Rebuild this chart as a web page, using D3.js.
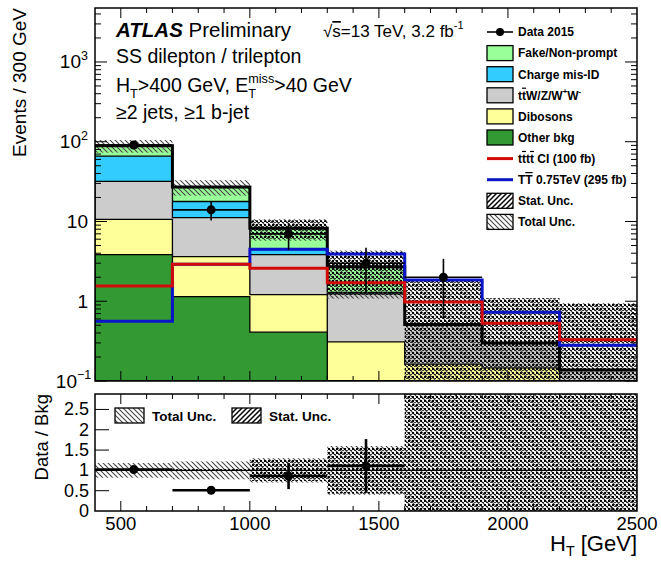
<!DOCTYPE html>
<html><head><meta charset="utf-8">
<script src="https://cdn.jsdelivr.net/npm/d3@7"></script>
<style>
html,body{margin:0;padding:0;background:#fff;}
svg{display:block;font-family:"Liberation Sans",Arial,Helvetica,sans-serif;}
</style></head><body>
<svg id="chart" width="661" height="561"></svg>
<script>
// H_T binning [GeV]
const binEdges = [400, 700, 1000, 1300, 1600, 1900, 2200, 2500];

// Background yields per bin (events / 300 GeV), stacked bottom to top
const otherBkg      = [3.85, 1.14, 0.41, 0, 0, 0, 0];
const dibosons      = [6.75, 2.49, 0.80, 0.31, 0.163, 0.146, 0.05];
const ttV           = [21.3, 7.57, 2.64, 0.93, 0.337, 0.154, 0.087];
const chargeMisID   = [34.0, 6.6, 0.60, 0.05, 0.01, 0, 0];
const fakeNonPrompt = [23.1, 9.2, 3.75, 1.41, 0, 0, 0];

// Signal benchmarks
const ttttCI = [1.55, 2.9, 2.6, 1.7, 0.98, 0.53, 0.33];
const tTbar  = [0.56, 2.9, 4.5, 3.9, 1.85, 0.73, 0.28];

// Relative uncertainties on the total background
const statUncRel = [0.02, 0.03, 0.26, 0.57, 2.7, 2.65, 5.9];
const totUncRel  = [0.18, 0.22, 0.30, 0.60, 2.7, 2.65, 5.9];

// Data 2015
const dataCenters = [550, 850, 1150, 1450, 1750];
const dataCounts  = [91, 14, 7, 3, 2];
const dataErr     = [9.5, 3.7, 2.6, 1.7, 1.4];

// Data / Bkg
const ratioCenters = [550, 850, 1150, 1450];
const ratioVals    = [1.02, 0.51, 0.86, 1.11];
const ratioErr     = [0.06, 0.08, 0.32, 0.66];

// Axis tick labels
const xTickVals   = [500, 1000, 1500, 2000, 2500];
const yLogTicks   = [0.1, 1, 10, 100, 1000];
const yLogLabels  = [["10", "\u22121"], ["1", ""], ["10", ""], ["10", "2"], ["10", "3"]];
const ratioTicks  = [0, 0.5, 1, 1.5, 2, 2.5];
const ratioLabels = ["0", "0.5", "1", "1.5", "2", "2.5"];

const svg = d3.select("#chart");
const M = {l: 95, r: 637, t: 8, b: 381};
const R = {t: 394, b: 511};
const x  = d3.scaleLinear().domain([400, 2500]).range([M.l, M.r]);
const y  = d3.scaleLog().domain([0.1, 4750]).range([M.b, M.t]).clamp(true);
const yr = d3.scaleLinear().domain([0, 2.88]).range([R.b, R.t]).clamp(true);
const yv = v => y(Math.max(v, 1e-4));
const nb = binEdges.length - 1;
const line = d3.line();

// ---------- defs ----------
const defs = svg.append("defs");
defs.append("clipPath").attr("id", "clipMain").append("rect")
  .attr("x", M.l).attr("y", M.t).attr("width", M.r - M.l).attr("height", M.b - M.t);
defs.append("clipPath").attr("id", "clipRatio").append("rect")
  .attr("x", M.l).attr("y", R.t).attr("width", M.r - M.l).attr("height", R.b - R.t);

const hatch = defs.append("pattern").attr("id", "hatchTot")
  .attr("patternUnits", "userSpaceOnUse").attr("width", 5).attr("height", 5);
hatch.append("path").attr("d", "M0,0 L5,5 M-1,4 L1,6 M4,-1 L6,1")
  .attr("stroke", "#444").attr("stroke-width", 1.1);

// dotted lattice for the statistical band
const dots = defs.append("pattern").attr("id", "dotsStat")
  .attr("patternUnits", "userSpaceOnUse").attr("width", 4).attr("height", 4);
dots.append("rect").attr("x", 0).attr("y", 0).attr("width", 2).attr("height", 2).attr("fill", "#000");
dots.append("rect").attr("x", 2).attr("y", 2).attr("width", 2).attr("height", 1).attr("fill", "#000").attr("opacity", 0.75);

const statLeg = defs.append("pattern").attr("id", "statLeg")
  .attr("patternUnits", "userSpaceOnUse").attr("width", 5).attr("height", 5);
statLeg.append("path").attr("d", "M0,5 L5,0 M-1,1 L1,-1 M4,6 L6,4")
  .attr("stroke", "#000").attr("stroke-width", 1.5);

// ---------- stacked backgrounds ----------
const comps  = [otherBkg, dibosons, ttV, chargeMisID, fakeNonPrompt];
const colors = ["#339933", "#ffff99", "#cccccc", "#33ccff", "#99ff99"];
const cum = [];
let acc = new Array(nb).fill(0);
comps.forEach(c => { acc = acc.map((a, i) => a + c[i]); cum.push(acc.slice()); });
const total = cum[cum.length - 1];

function stepPts(vals, yfn, closeTo) {
  const pts = [];
  if (closeTo != null) pts.push([x(binEdges[0]), closeTo]);
  vals.forEach((v, i) => {
    pts.push([x(binEdges[i]), yfn(v)]);
    pts.push([x(binEdges[i + 1]), yfn(v)]);
  });
  if (closeTo != null) pts.push([x(binEdges[nb]), closeTo]);
  return pts;
}

const gMain = svg.append("g").attr("clip-path", "url(#clipMain)");
for (let k = cum.length - 1; k >= 0; k--) {
  gMain.append("path").attr("d", line(stepPts(cum[k], yv, M.b)) + "Z")
    .attr("fill", colors[k]).attr("stroke", "#000").attr("stroke-width", 1.3);
}

// uncertainty bands on total background
function bands(g, rel, fill, yfn) {
  g.selectAll(null).data(d3.range(nb)).enter().append("rect")
    .attr("x", i => x(binEdges[i]))
    .attr("width", i => x(binEdges[i + 1]) - x(binEdges[i]))
    .attr("y", i => yfn(total[i] * (1 + rel[i])))
    .attr("height", i => yfn(total[i] * (1 - rel[i])) - yfn(total[i] * (1 + rel[i])))
    .attr("fill", fill);
}
bands(gMain, totUncRel, "url(#hatchTot)", v => yv(v));
bands(gMain, statUncRel, "url(#dotsStat)", v => yv(v));

// total background outline
gMain.append("path").attr("d", line(stepPts(total, yv)))
  .attr("fill", "none").attr("stroke", "#000").attr("stroke-width", 3);

// signals
gMain.append("path").attr("d", line(stepPts(tTbar, yv)))
  .attr("fill", "none").attr("stroke", "#0a14c8").attr("stroke-width", 3);
gMain.append("path").attr("d", line(stepPts(ttttCI, yv)))
  .attr("fill", "none").attr("stroke", "#d20a0a").attr("stroke-width", 3);

// data
const gData = gMain.append("g");
dataCenters.forEach((c, i) => {
  const n = dataCounts[i], e = dataErr[i];
  gData.append("line").attr("x1", x(c - 150)).attr("x2", x(c + 150))
    .attr("y1", yv(n)).attr("y2", yv(n)).attr("stroke", "#000").attr("stroke-width", 1.6);
  gData.append("line").attr("x1", x(c)).attr("x2", x(c))
    .attr("y1", yv(n - e)).attr("y2", yv(n + e)).attr("stroke", "#000").attr("stroke-width", 1.6);
  gData.append("circle").attr("cx", x(c)).attr("cy", yv(n)).attr("r", 4.5).attr("fill", "#000");
});

// ---------- text helpers ----------
function rich(textSel, segs, size) {
  let shift = 0;
  segs.forEach(s => {
    const ts = textSel.append("tspan").text(s.t);
    let target = 0, fs = size;
    if (s.sup) { target = -size * 0.45; fs = size * 0.65; }
    if (s.sub) { target = size * (s.subShift || 0.3); fs = size * 0.65; }
    ts.attr("font-size", fs);
    const dy = target - shift;
    if (dy) ts.attr("dy", dy);
    if (s.dx) ts.attr("dx", s.dx);
    if (s.bar) ts.style("text-decoration", "overline");
    if (s.weight) ts.attr("font-weight", s.weight);
    if (s.italic) ts.attr("font-style", "italic");
    shift = target;
  });
  return textSel;
}
function measure(str, size, weight) {
  const t = svg.append("text").attr("font-size", size).attr("font-weight", weight || "normal").text(str);
  const w = t.node().getComputedTextLength();
  t.remove();
  return w;
}

// ---------- labels in main panel ----------
const titleSize = 19.5;
rich(svg.append("text").attr("x", 116).attr("y", 37), [
  {t: "ATLAS", weight: "bold", italic: true},
  {t: " Preliminary"}
], 20.5);
rich(svg.append("text").attr("x", 323).attr("y", 37), [
  {t: "\u221A"}, {t: "s", bar: true}, {t: "=13 TeV, 3.2 fb"}, {t: "-1", sup: true}
], 17);
svg.append("text").attr("x", 116).attr("y", 63).attr("font-size", titleSize).text("SS dilepton / trilepton");
{
  const wMiss = measure("miss", titleSize * 0.65);
  const wT = measure("T", titleSize * 0.65);
  rich(svg.append("text").attr("x", 116).attr("y", 92), [
    {t: "H"}, {t: "T", sub: true}, {t: ">400 GeV, E"},
    {t: "miss", sup: true}, {t: "T", sub: true, dx: -wMiss},
    {t: ">40 GeV", dx: wMiss - wT}
  ], titleSize);
}
svg.append("text").attr("x", 116).attr("y", 119).attr("font-size", titleSize).text("\u22652 jets, \u22651 b-jet");

// legend
const legendItems = [
  {type: "data", segs: [{t: "Data 2015"}]},
  {type: "fill", fill: "#99ff99", segs: [{t: "Fake/Non-prompt"}]},
  {type: "fill", fill: "#33ccff", segs: [{t: "Charge mis-ID"}]},
  {type: "fill", fill: "#cccccc", segs: [{t: "t"}, {t: "t", bar: true}, {t: "W/Z/W"}, {t: "+", sup: true}, {t: "W"}, {t: "-", sup: true}]},
  {type: "fill", fill: "#ffff99", segs: [{t: "Dibosons"}]},
  {type: "fill", fill: "#339933", segs: [{t: "Other bkg"}]},
  {type: "line", color: "#d20a0a", segs: [{t: "t"}, {t: "t", bar: true}, {t: "t"}, {t: "t", bar: true}, {t: " CI (100 fb)"}]},
  {type: "line", color: "#0a14c8", segs: [{t: "T"}, {t: "T", bar: true}, {t: " 0.75TeV (295 fb)"}]},
  {type: "fill", fill: "url(#statLeg)", segs: [{t: "Stat. Unc."}]},
  {type: "fill", fill: "url(#hatchTot)", segs: [{t: "Total Unc."}]}
];
const legX = 487, legW = 26, legH = 15, legTextX = 518, legY0 = 32, legStep = 21.1;
legendItems.forEach((it, i) => {
  const cy = legY0 + i * legStep;
  if (it.type === "fill") {
    svg.append("rect").attr("x", legX).attr("y", cy - legH / 2).attr("width", legW).attr("height", legH)
      .attr("fill", "#fff").attr("stroke", "none");
    svg.append("rect").attr("x", legX).attr("y", cy - legH / 2).attr("width", legW).attr("height", legH)
      .attr("fill", it.fill).attr("stroke", "#000").attr("stroke-width", 1.3);
  } else if (it.type === "line") {
    svg.append("line").attr("x1", legX).attr("x2", legX + legW).attr("y1", cy).attr("y2", cy)
      .attr("stroke", it.color).attr("stroke-width", 3);
  } else {
    svg.append("line").attr("x1", legX).attr("x2", legX + legW).attr("y1", cy).attr("y2", cy)
      .attr("stroke", "#000").attr("stroke-width", 1.6);
    svg.append("circle").attr("cx", legX + legW / 2).attr("cy", cy).attr("r", 4).attr("fill", "#000");
  }
  rich(svg.append("text").attr("x", legTextX).attr("y", cy + 4.3).attr("font-weight", "bold"), it.segs, 12);
});

// ---------- ratio panel ----------
const gRatio = svg.append("g").attr("clip-path", "url(#clipRatio)");
function ratioBands(rel, fill) {
  gRatio.selectAll(null).data(d3.range(nb)).enter().append("rect")
    .attr("x", i => x(binEdges[i]))
    .attr("width", i => x(binEdges[i + 1]) - x(binEdges[i]))
    .attr("y", i => yr(1 + rel[i]))
    .attr("height", i => yr(1 - rel[i]) - yr(1 + rel[i]))
    .attr("fill", fill);
}
ratioBands(totUncRel, "url(#hatchTot)");
ratioBands(statUncRel, "url(#dotsStat)");
gRatio.append("line").attr("x1", M.l).attr("x2", M.r).attr("y1", yr(1)).attr("y2", yr(1))
  .attr("stroke", "#000").attr("stroke-width", 1.2);
ratioCenters.forEach((c, i) => {
  const v = ratioVals[i], e = ratioErr[i];
  gRatio.append("line").attr("x1", x(c - 150)).attr("x2", x(c + 150))
    .attr("y1", yr(v)).attr("y2", yr(v)).attr("stroke", "#000").attr("stroke-width", 2.6);
  gRatio.append("line").attr("x1", x(c)).attr("x2", x(c))
    .attr("y1", yr(v - e)).attr("y2", yr(v + e)).attr("stroke", "#000").attr("stroke-width", 2.6);
  gRatio.append("circle").attr("cx", x(c)).attr("cy", yr(v)).attr("r", 4.5).attr("fill", "#000");
});

// ratio legend
[[115, 152, "url(#hatchTot)", "Total Unc."], [232, 269, "url(#statLeg)", "Stat. Unc."]].forEach(([bx, tx, f, lab]) => {
  svg.append("rect").attr("x", bx).attr("y", 408).attr("width", 29).attr("height", 15)
    .attr("fill", "#fff");
  svg.append("rect").attr("x", bx).attr("y", 408).attr("width", 29).attr("height", 15)
    .attr("fill", f).attr("stroke", "#000").attr("stroke-width", 1.3);
  svg.append("text").attr("x", tx).attr("y", 421).attr("font-size", 13.5).attr("font-weight", "bold").text(lab);
});

// ---------- axes ----------
const gAx = svg.append("g").attr("stroke", "#000").attr("stroke-width", 1);
function vTicks(vals, y0, y1, len) {
  vals.forEach(v => {
    gAx.append("line").attr("x1", x(v)).attr("x2", x(v)).attr("y1", y0).attr("y2", y0 - len);
    gAx.append("line").attr("x1", x(v)).attr("x2", x(v)).attr("y1", y1).attr("y2", y1 + len);
  });
}
const xMinor = d3.range(500, 2500, 100).filter(v => v % 500 !== 0);
const xMajor = [500, 1000, 1500, 2000];
vTicks(xMinor, M.b, M.t, 5);
vTicks(xMajor, M.b, M.t, 10);
vTicks(xMinor, R.b, R.t, 5);
vTicks(xMajor, R.b, R.t, 10);

function hTicks(yvals, yfn, len) {
  yvals.forEach(v => {
    gAx.append("line").attr("x1", M.l).attr("x2", M.l + len).attr("y1", yfn(v)).attr("y2", yfn(v));
    gAx.append("line").attr("x1", M.r).attr("x2", M.r - len).attr("y1", yfn(v)).attr("y2", yfn(v));
  });
}
const yMinor = [];
[0.1, 1, 10, 100, 1000].forEach(d => d3.range(2, 10).forEach(k => { if (k * d < 4750) yMinor.push(k * d); }));
hTicks(yMinor, y, 6);
hTicks(yLogTicks, y, 12);
hTicks([0.5, 1, 1.5, 2, 2.5], yr, 14);

// frames
svg.append("rect").attr("x", M.l).attr("y", M.t).attr("width", M.r - M.l).attr("height", M.b - M.t)
  .attr("fill", "none").attr("stroke", "#000").attr("stroke-width", 1.5);
svg.append("rect").attr("x", M.l).attr("y", R.t).attr("width", M.r - M.l).attr("height", R.b - R.t)
  .attr("fill", "none").attr("stroke", "#000").attr("stroke-width", 1.5);

// tick labels
yLogTicks.forEach((v, i) => {
  const [base, exp] = yLogLabels[i];
  const off = exp ? (exp.length > 1 ? 11 : 7) : 0;
  svg.append("text").attr("text-anchor", "end").attr("x", 88 - off)
    .attr("y", y(v) + 6.5).attr("font-size", 19).text(base);
  if (exp) {
    svg.append("text").attr("text-anchor", "start").attr("x", 88 - off)
      .attr("y", y(v) - 2).attr("font-size", 12.5).text(exp);
  }
});
ratioTicks.forEach((v, i) => {
  svg.append("text").attr("text-anchor", "end").attr("x", 89).attr("y", yr(v) + 6)
    .attr("font-size", 18).text(ratioLabels[i]);
});
xTickVals.forEach(v => {
  svg.append("text").attr("text-anchor", "middle").attr("x", x(v)).attr("y", 530)
    .attr("font-size", 18.5).text(v);
});

// axis titles
rich(svg.append("text").attr("text-anchor", "end").attr("x", 637).attr("y", 551), [
  {t: "H"}, {t: "T", sub: true, subShift: 0.22}, {t: " [GeV]"}
], 22);
svg.append("text").attr("transform", "translate(26,8) rotate(-90)").attr("text-anchor", "end")
  .attr("font-size", 19).text("Events / 300 GeV");
svg.append("text").attr("transform", "translate(48,394) rotate(-90)").attr("text-anchor", "end")
  .attr("font-size", 18.5).text("Data / Bkg");
</script>
</body></html>
